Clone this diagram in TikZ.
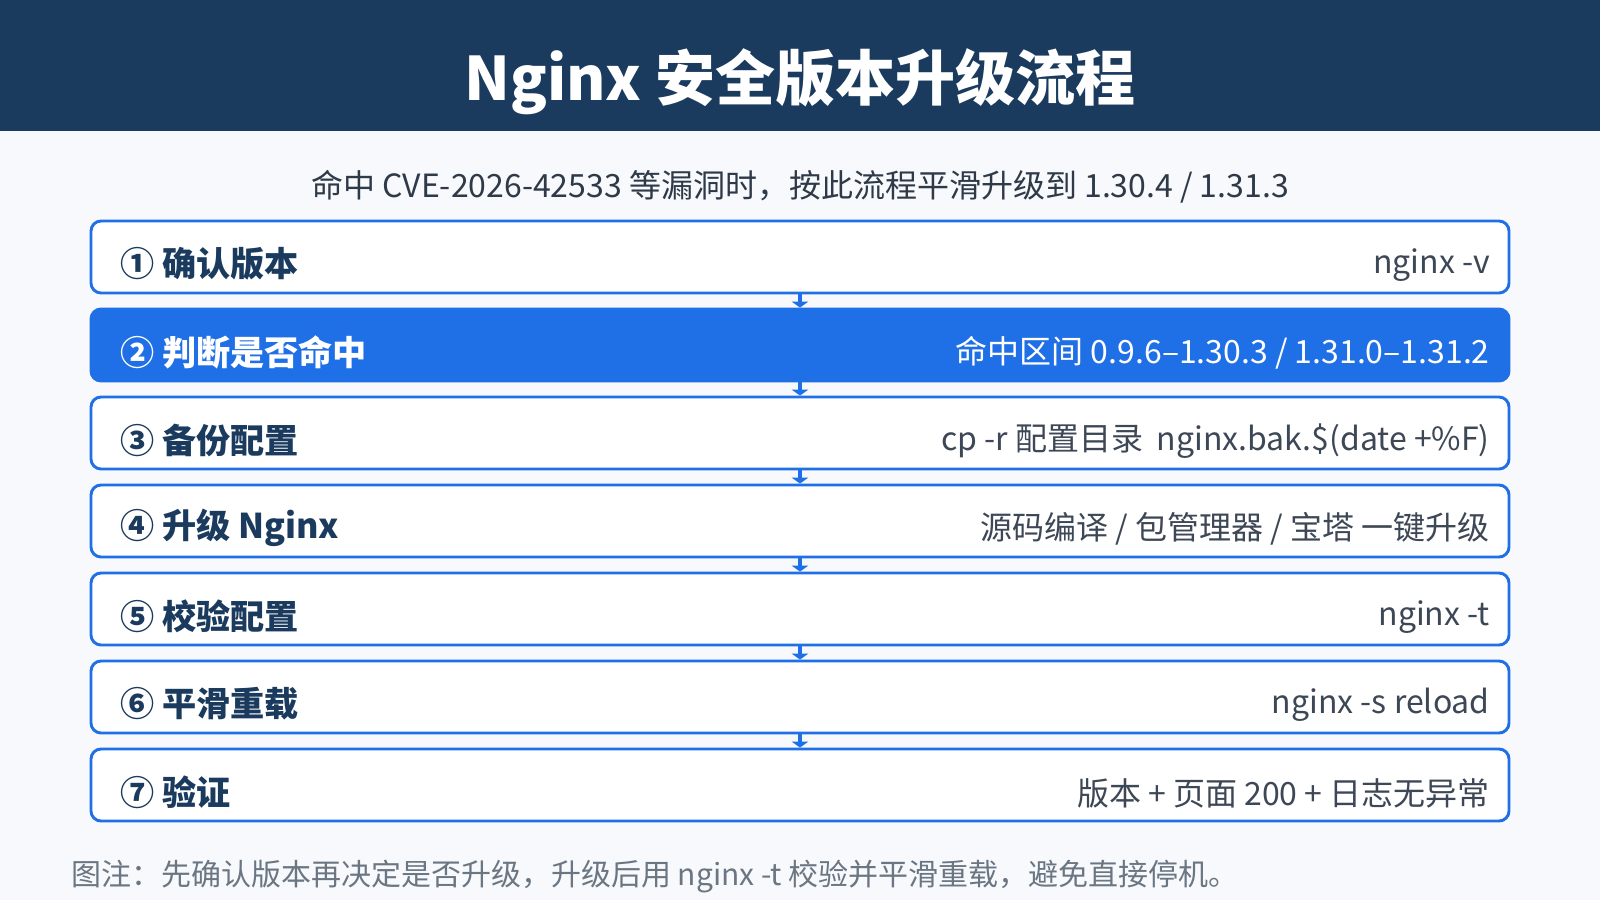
\documentclass[tikz,border=0pt]{standalone}
\usepackage{fontspec}
\setmainfont{Noto Sans CJK SC}
\usetikzlibrary{arrows.meta}
\definecolor{navy}{HTML}{1A3A5E}
\definecolor{flowblue}{HTML}{1F6FE6}
\definecolor{paper}{HTML}{F7F9FC}
\definecolor{subgray}{HTML}{2F3A48}
\definecolor{cmdgray}{HTML}{3D4756}
\definecolor{notegray}{HTML}{6B7683}

\begin{document}
\begin{tikzpicture}[x=0.75pt,y=-0.75pt,
  stepbox/.style={draw=flowblue,line width=2.2pt,fill=white,rounded corners=7.5pt,
    minimum width=1063.5pt,minimum height=54pt,inner sep=0pt},
  hotbox/.style={stepbox,fill=flowblue},
  steplabel/.style={anchor=west,inner sep=0pt,text=navy,font=\fontsize{25.6}{30}\selectfont\bfseries},
  stepcmd/.style={anchor=east,inner sep=0pt,text=cmdgray,font=\fontsize{24}{28}\selectfont},
  flowarrow/.style={draw=flowblue,line width=2.8pt,-{Triangle[width=12.5pt,length=4.5pt]}}]
\useasboundingbox (0,0) rectangle (1600,900);
\fill[paper] (0,0) rectangle (1600,900);
\fill[navy] (0,0) rectangle (1600,131);

\node (title) at (800,82) [text=white,font=\fontsize{45}{50}\selectfont\bfseries]{Nginx 安全版本升级流程};
\node (sub) at (800,187) [text=subgray,font=\fontsize{24}{28}\selectfont]{命中 CVE-2026-42533 等漏洞时，按此流程平滑升级到 1.30.4 / 1.31.3};

\node (b1) at (800,257) [stepbox]{};
\node (b2) at (800,345) [hotbox]{};
\node (b3) at (800,433) [stepbox]{};
\node (b4) at (800,521) [stepbox]{};
\node (b5) at (800,609) [stepbox]{};
\node (b6) at (800,697) [stepbox]{};
\node (b7) at (800,785) [stepbox]{};

\node (t1) at (120,264) [steplabel]{① 确认版本};
\node (t2) at (120,352) [steplabel,text=white]{② 判断是否命中};
\node (t3) at (120,440) [steplabel]{③ 备份配置};
\node (t4) at (120,528) [steplabel]{④ 升级 Nginx};
\node (t5) at (120,616) [steplabel]{⑤ 校验配置};
\node (t6) at (120,704) [steplabel]{⑥ 平滑重载};
\node (t7) at (120,792) [steplabel]{⑦ 验证};

\node (c1) at (1490,265) [stepcmd]{nginx -v};
\node (c2) at (1490,353) [stepcmd,text=white]{命中区间 0.9.6–1.30.3 / 1.31.0–1.31.2};
\node (c3) at (1490,441) [stepcmd]{cp -r 配置目录\hspace{0.2em} nginx.bak.\$(date +\%F)};
\node (c4) at (1490,529) [stepcmd]{源码编译 / 包管理器 / 宝塔 一键升级};
\node (c5) at (1490,617) [stepcmd]{nginx -t};
\node (c6) at (1490,705) [stepcmd]{nginx -s reload};
\node (c7) at (1490,793) [stepcmd]{版本 + 页面 200 + 日志无异常};

\draw[flowarrow] (b1.south) -- (b2.north);
\draw[flowarrow] (b2.south) -- (b3.north);
\draw[flowarrow] (b3.south) -- (b4.north);
\draw[flowarrow] (b4.south) -- (b5.north);
\draw[flowarrow] (b5.south) -- (b6.north);
\draw[flowarrow] (b6.south) -- (b7.north);

\node (note) at (71,877) [anchor=west,inner sep=0pt,text=notegray,font=\fontsize{22.5}{27}\selectfont]{图注：先确认版本再决定是否升级，升级后用 nginx -t 校验并平滑重载，避免直接停机。};
\end{tikzpicture}
\end{document}
